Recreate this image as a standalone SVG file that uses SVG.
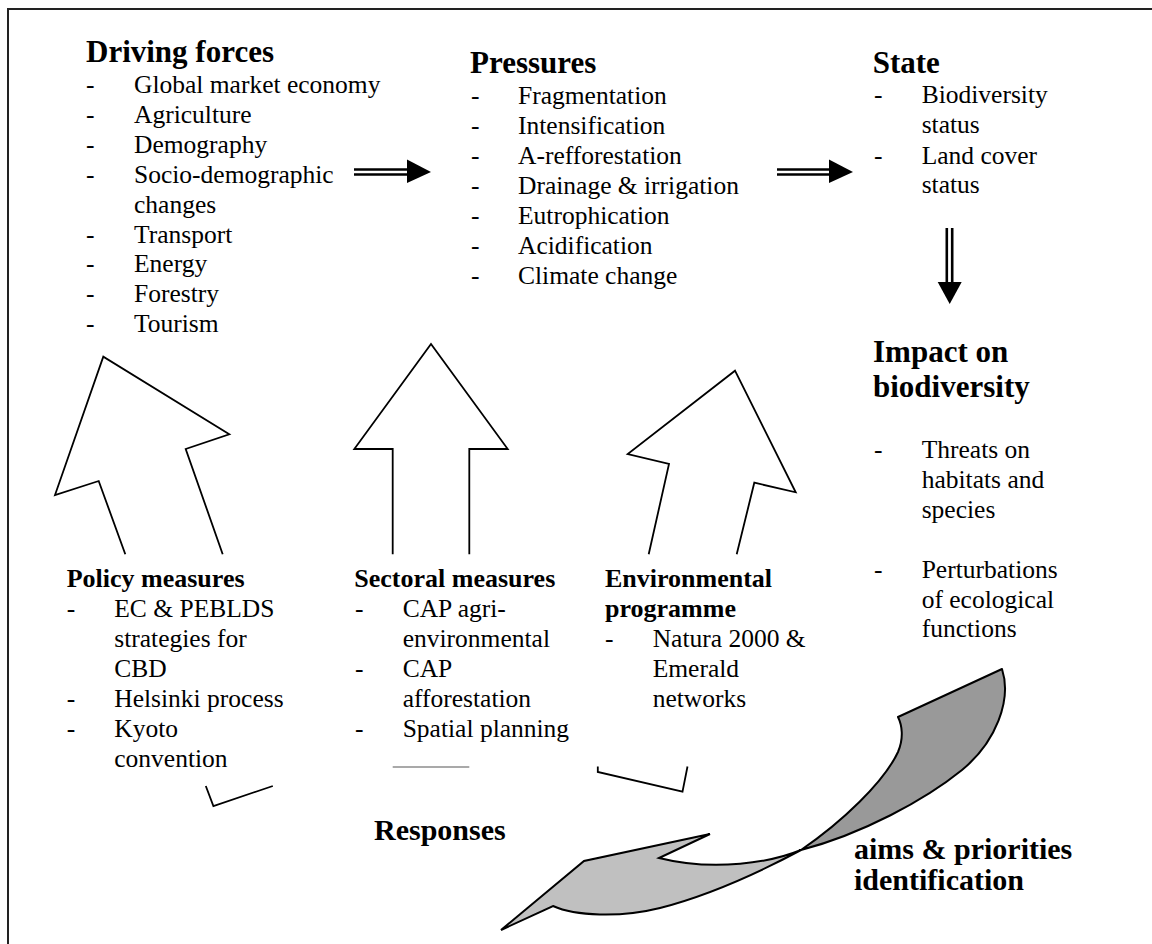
<svg xmlns="http://www.w3.org/2000/svg" width="1152" height="944" viewBox="0 0 1152 944">
<style>
text{font-family:"Liberation Serif","Times New Roman",serif;fill:#000}
.h1{font-weight:bold;font-size:31px}
.h2{font-weight:bold;font-size:26px}
.h3{font-weight:bold;font-size:30px}
.t{font-size:25.5px}
.bigarrow{fill:#fff;stroke:#000;stroke-width:1.8;stroke-linejoin:miter}
.frag{fill:none;stroke:#000;stroke-width:1.8}
.dbl{stroke:#000;stroke-width:2.6}
</style>
<rect x="8" y="9" width="1300" height="1100" fill="#fff" stroke="#222" stroke-width="2"/>

<g id="connectors">
  <!-- driving forces -> pressures -->
  <line class="dbl" x1="354" y1="169.5" x2="409" y2="169.5"/>
  <line class="dbl" x1="354" y1="174.5" x2="409" y2="174.5"/>
  <polygon points="407,159.5 431,172 407,183" fill="#000"/>
  <!-- pressures -> state -->
  <line class="dbl" x1="777" y1="169.5" x2="831" y2="169.5"/>
  <line class="dbl" x1="777" y1="174.5" x2="831" y2="174.5"/>
  <polygon points="829,159.5 853,172 829,183" fill="#000"/>
  <!-- state -> impact -->
  <line class="dbl" x1="946.8" y1="228" x2="946.8" y2="284"/>
  <line class="dbl" x1="952.2" y1="228" x2="952.2" y2="284"/>
  <polygon points="937.7,282 961.7,282 949.7,304" fill="#000"/>
  <!-- response arrows -->
  <polyline class="bigarrow" points="125.3,554.3 98.7,481 55,495 103.3,356.7 229.3,434.3 185.7,449 222.7,554.3"/>
  <polyline class="bigarrow" points="392.7,554.3 392.7,449 354.3,449 431,344 507.7,449 469.3,449 469.3,554.3"/>
  <polyline class="bigarrow" points="648.7,554.3 669,464 627.7,454 735,370.7 795.7,492.3 754.3,482.7 736.7,554.3"/>
  <!-- arrow base fragments -->
  <polyline class="frag" points="205.8,786 213.4,806 272.8,786"/>
  <line x1="392.7" y1="767" x2="469.3" y2="767" stroke="#555" stroke-width="1.2"/>
  <polyline class="frag" points="597.8,766.5 597.8,772 682.5,791.7 687.5,766.5"/>
  <!-- curved feedback arrow -->
  <path d="M1002,669 C1012,700 996,742 962,770 C925,800 862,834 801,850 C842,822 884,782 898,752 C904,738 902,725 898,717 Z" fill="#999" stroke="#000" stroke-width="2" stroke-linejoin="round"/>
  <path d="M801,850 C772,862 715,872 659,858 L710,834 L584,861 L501,930 L553,906 C575,916 620,918 660,908 C710,895 760,872 801,850 Z" fill="#c0c0c0" stroke="#000" stroke-width="2" stroke-linejoin="miter"/>
</g>

<g id="driving-forces">
  <text class="h1" x="86" y="62">Driving forces</text>
  <text class="t" x="86" y="93">-</text><text class="t" x="134" y="93">Global market economy</text>
  <text class="t" x="86" y="123">-</text><text class="t" x="134" y="123">Agriculture</text>
  <text class="t" x="86" y="152.5">-</text><text class="t" x="134" y="152.5">Demography</text>
  <text class="t" x="86" y="182.5">-</text><text class="t" x="134" y="182.5">Socio-demographic</text>
  <text class="t" x="134" y="212.5">changes</text>
  <text class="t" x="86" y="242.5">-</text><text class="t" x="134" y="242.5">Transport</text>
  <text class="t" x="86" y="272">-</text><text class="t" x="134" y="272">Energy</text>
  <text class="t" x="86" y="302">-</text><text class="t" x="134" y="302">Forestry</text>
  <text class="t" x="86" y="332">-</text><text class="t" x="134" y="332">Tourism</text>
</g>

<g id="pressures">
  <text class="h1" x="470" y="73">Pressures</text>
  <text class="t" x="471" y="104">-</text><text class="t" x="518" y="104">Fragmentation</text>
  <text class="t" x="471" y="134">-</text><text class="t" x="518" y="134">Intensification</text>
  <text class="t" x="471" y="164">-</text><text class="t" x="518" y="164">A-refforestation</text>
  <text class="t" x="471" y="194">-</text><text class="t" x="518" y="194">Drainage &amp; irrigation</text>
  <text class="t" x="471" y="224">-</text><text class="t" x="518" y="224">Eutrophication</text>
  <text class="t" x="471" y="254">-</text><text class="t" x="518" y="254">Acidification</text>
  <text class="t" x="471" y="284">-</text><text class="t" x="518" y="284">Climate change</text>
</g>

<g id="state">
  <text class="h1" x="872.7" y="73">State</text>
  <text class="t" x="874" y="103">-</text><text class="t" x="921.7" y="103">Biodiversity</text>
  <text class="t" x="921.7" y="133">status</text>
  <text class="t" x="874" y="163.5">-</text><text class="t" x="921.7" y="163.5">Land cover</text>
  <text class="t" x="921.7" y="193">status</text>
</g>

<g id="impact">
  <text class="h1" x="873" y="362">Impact on</text>
  <text class="h1" x="873" y="397">biodiversity</text>
  <text class="t" x="874" y="458">-</text><text class="t" x="921.7" y="458">Threats on</text>
  <text class="t" x="921.7" y="488">habitats and</text>
  <text class="t" x="921.7" y="517.5">species</text>
  <text class="t" x="874" y="578">-</text><text class="t" x="921.7" y="578">Perturbations</text>
  <text class="t" x="921.7" y="607.5">of ecological</text>
  <text class="t" x="921.7" y="637">functions</text>
</g>

<g id="policy-measures">
  <text class="h2" x="66.7" y="587">Policy measures</text>
  <text class="t" x="66.7" y="617">-</text><text class="t" x="114.3" y="617">EC &amp; PEBLDS</text>
  <text class="t" x="114.3" y="647">strategies for</text>
  <text class="t" x="114.3" y="677">CBD</text>
  <text class="t" x="66.7" y="707">-</text><text class="t" x="114.3" y="707">Helsinki process</text>
  <text class="t" x="66.7" y="737">-</text><text class="t" x="114.3" y="737">Kyoto</text>
  <text class="t" x="114.3" y="767">convention</text>
</g>

<g id="sectoral-measures">
  <text class="h2" x="354.3" y="587">Sectoral measures</text>
  <text class="t" x="355" y="617">-</text><text class="t" x="402.7" y="617">CAP agri-</text>
  <text class="t" x="402.7" y="647">environmental</text>
  <text class="t" x="355" y="677">-</text><text class="t" x="402.7" y="677">CAP</text>
  <text class="t" x="402.7" y="707">afforestation</text>
  <text class="t" x="355" y="737">-</text><text class="t" x="402.7" y="737">Spatial planning</text>
</g>

<g id="environmental-programme">
  <text class="h2" x="605" y="587">Environmental</text>
  <text class="h2" x="605" y="617">programme</text>
  <text class="t" x="605" y="647">-</text><text class="t" x="652.7" y="647">Natura 2000 &amp;</text>
  <text class="t" x="652.7" y="677">Emerald</text>
  <text class="t" x="652.7" y="707">networks</text>
</g>

<g id="responses">
  <text class="h3" x="374" y="840">Responses</text>
</g>

<g id="aims">
  <text class="h3" x="854" y="859">aims &amp; priorities</text>
  <text class="h3" x="854" y="890">identification</text>
</g>
</svg>
